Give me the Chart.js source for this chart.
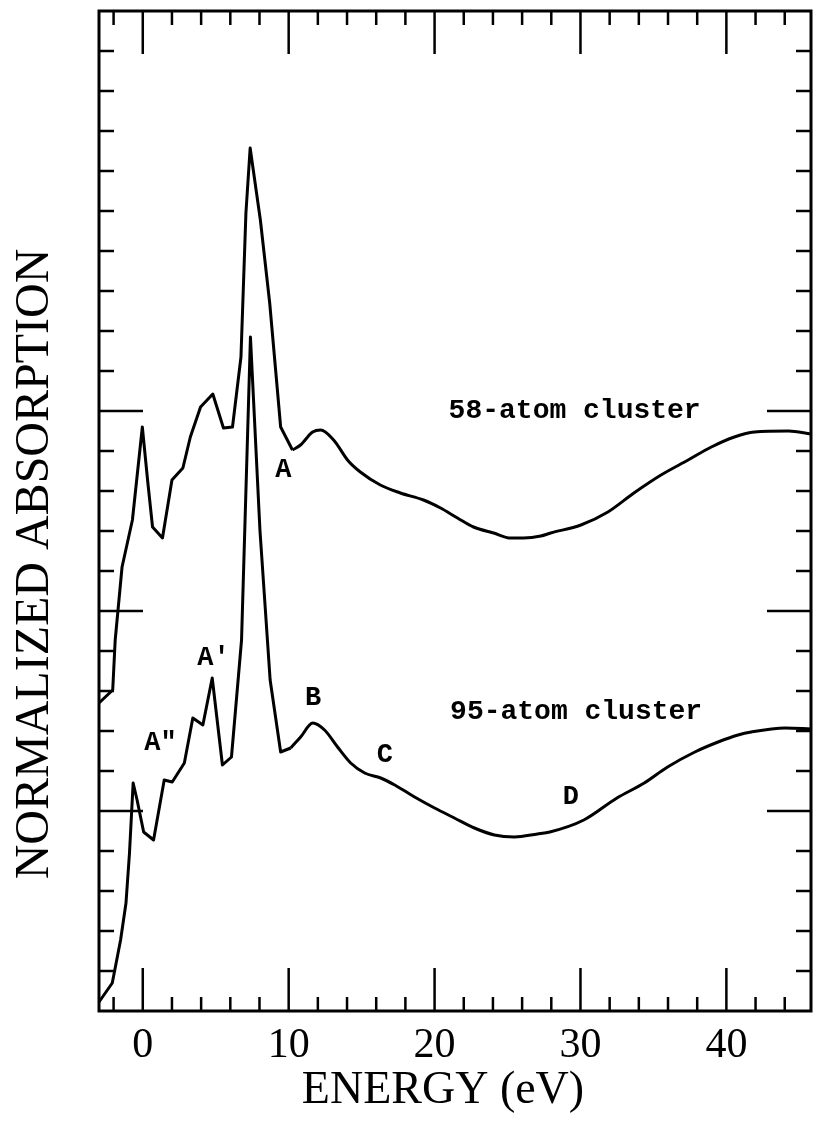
<!DOCTYPE html>
<html><head><meta charset="utf-8">
<script src="https://cdn.jsdelivr.net/npm/chart.js@4.4.1/dist/chart.umd.min.js"></script>
<style>html,body{margin:0;padding:0;background:#fff;}#wrap{width:815px;height:1125px;}</style>
</head><body><div id="wrap"><canvas id="c" width="815" height="1125"></canvas></div>
<script>
// ---- data (energy in eV, normalized absorption in arbitrary offset units) ----
const energy58 = [-3.0,-2.06,-1.89,-1.42,-0.71,-0.03,0.35,0.67,1.35,2.0,2.75,3.26,3.96,4.80,5.53,6.15,6.73,7.07,7.36,8.06,8.70,9.45,10.26,10.81,11.64,12.19,13.08,14.09,14.91,16.28,17.66,19.24,20.41,21.57,22.67,24.05,25.22,26.11,27.28,27.96,30.03,31.88,33.66,35.52,37.38,38.97,40.55,41.92,44.26,45.8];
const absorb58 = [1.54,1.605,1.855,2.22,2.455,2.92,2.64,2.42,2.365,2.655,2.715,2.87,3.02,3.085,2.915,2.92,3.27,3.99,4.315,3.955,3.54,2.92,2.805,2.83,2.895,2.905,2.855,2.75,2.695,2.63,2.59,2.555,2.515,2.465,2.42,2.39,2.365,2.365,2.375,2.39,2.43,2.495,2.59,2.68,2.755,2.82,2.87,2.895,2.90,2.885];

const energy95 = [-3.0,-2.09,-1.52,-1.15,-0.91,-0.66,-0.39,0.06,0.74,1.47,2.02,2.85,3.43,4.12,4.76,5.46,6.08,6.77,7.38,8.03,8.73,9.45,10.14,10.82,11.65,12.46,13.35,14.25,15.21,16.31,17.27,18.63,20.0,21.36,22.73,24.1,25.47,27.05,27.9,30.23,32.5,34.37,35.97,37.84,39.43,40.8,41.7,44.04,45.8];
const absorb95 = [0.045,0.14,0.355,0.54,0.79,1.14,1.055,0.895,0.855,1.155,1.145,1.24,1.465,1.43,1.665,1.23,1.27,1.855,3.37,2.405,1.655,1.295,1.315,1.37,1.44,1.405,1.32,1.24,1.19,1.165,1.13,1.07,1.015,0.965,0.915,0.88,0.87,0.885,0.895,0.955,1.065,1.14,1.22,1.295,1.345,1.38,1.395,1.415,1.41];

// energy above which each spectrum is a smooth curve (drawn with monotone interpolation)
const smoothFrom58 = 10.26;
const smoothFrom95 = 10.14;

// ---- axes / ticks ----
const xMin = -3, xMax = 45.8, yMin = 0, yMax = 5;
const xLabelTicks = [0,10,20,30,40];
const xTickLabels = ['0','10','20','30','40'];
const xMinorTicks = [-2,2,4,6,8,12,14,16,18,22,24,26,28,32,34,36,38,42,44];
const yMajorTicks = [1,2,3];
const yMinorTicks = [0.2,0.4,0.6,0.8,1.2,1.4,1.6,1.8,2.2,2.4,2.6,2.8,3.2,3.4,3.6,3.8,4.0,4.2,4.4,4.6,4.8];
const xTitle = 'ENERGY (eV)';
const yTitle = 'NORMALIZED ABSORPTION';

// ---- annotations (data coordinates) ----
const clusterLabels = ['58-atom cluster','95-atom cluster'];
const clusterLabelX = [29.6, 29.7];
const clusterLabelY = [3.0, 1.495];
const peakLabels = ['A','A\u2032','A\u2033','B','C','D'];
const peakLabelX = [9.64, 4.84, 1.21, 11.68, 16.6, 29.34];
const peakLabelY = [2.705, 1.765, 1.34, 1.565, 1.28, 1.07];

function pts(ex, ay, from, to) {
  const out = [];
  for (let i = 0; i < ex.length; i++) {
    if (ex[i] >= from && ex[i] <= to) out.push({x: ex[i], y: ay[i]});
  }
  return out;
}

const framePlugin = {
  id: 'frame',
  afterDatasetsDraw(chart) {
    const {ctx, chartArea: a, scales: {x, y}} = chart;
    ctx.save();
    ctx.strokeStyle = '#000';
    ctx.lineWidth = 3;
    ctx.strokeRect(a.left, a.top, a.right - a.left, a.bottom - a.top);
    ctx.lineWidth = 2.5;
    ctx.beginPath();
    const tickX = (v, len) => {
      const px = x.getPixelForValue(v);
      ctx.moveTo(px, a.bottom); ctx.lineTo(px, a.bottom - len);
      ctx.moveTo(px, a.top); ctx.lineTo(px, a.top + len);
    };
    const tickY = (v, len) => {
      const py = y.getPixelForValue(v);
      ctx.moveTo(a.left, py); ctx.lineTo(a.left + len, py);
      ctx.moveTo(a.right, py); ctx.lineTo(a.right - len, py);
    };
    xMinorTicks.forEach(v => tickX(v, 14));
    xLabelTicks.forEach(v => tickX(v, 43));
    yMinorTicks.forEach(v => tickY(v, 15));
    yMajorTicks.forEach(v => tickY(v, 44));
    ctx.stroke();

    ctx.fillStyle = '#000';
    ctx.textAlign = 'center';
    ctx.textBaseline = 'middle';
    ctx.font = 'bold 28px "Liberation Mono"';
    clusterLabels.forEach((t, i) => ctx.fillText(t, x.getPixelForValue(clusterLabelX[i]), y.getPixelForValue(clusterLabelY[i])));
    ctx.font = 'bold 27px "Liberation Mono"';
    peakLabels.forEach((t, i) => ctx.fillText(t, x.getPixelForValue(peakLabelX[i]), y.getPixelForValue(peakLabelY[i])));

    // axis titles
    ctx.font = '46px "Liberation Serif"';
    ctx.fillText(xTitle, a.left + 344, a.bottom + 80);
    ctx.font = '48px "Liberation Serif"';
    ctx.translate(35, a.top + 553);
    ctx.rotate(-Math.PI / 2);
    ctx.fillText(yTitle, 0, 0);
    ctx.restore();
  }
};

const lineStyle = { showLine: true, borderColor: '#000', borderWidth: 3, pointRadius: 0, fill: false, borderJoinStyle: 'round' };

const ctx = document.getElementById('c').getContext('2d');
new Chart(ctx, {
  type: 'scatter',
  data: {
    datasets: [
      Object.assign({ label: clusterLabels[0], data: pts(energy58, absorb58, -Infinity, smoothFrom58), tension: 0 }, lineStyle),
      Object.assign({ label: clusterLabels[0] + ' (tail)', data: pts(energy58, absorb58, smoothFrom58, Infinity), cubicInterpolationMode: 'monotone' }, lineStyle),
      Object.assign({ label: clusterLabels[1], data: pts(energy95, absorb95, -Infinity, smoothFrom95), tension: 0 }, lineStyle),
      Object.assign({ label: clusterLabels[1] + ' (tail)', data: pts(energy95, absorb95, smoothFrom95, Infinity), cubicInterpolationMode: 'monotone' }, lineStyle)
    ]
  },
  options: {
    responsive: false, animation: false, devicePixelRatio: 1,
    layout: { padding: { top: 11, right: 4, left: 0, bottom: 0 } },
    plugins: { legend: { display: false }, tooltip: { enabled: false } },
    scales: {
      x: {
        type: 'linear', min: xMin, max: xMax,
        grid: { display: false, drawTicks: false }, border: { display: false },
        afterBuildTicks: s => { s.ticks = xLabelTicks.map(v => ({value: v})); },
        ticks: {
          font: { family: 'Liberation Serif', size: 42 }, color: '#000', padding: 10,
          maxRotation: 0, autoSkip: false,
          callback: v => { const i = xLabelTicks.indexOf(v); return i >= 0 ? xTickLabels[i] : ''; }
        },
        afterFit: s => { s.height = 114; }
      },
      y: {
        type: 'linear', min: yMin, max: yMax,
        grid: { display: false, drawTicks: false }, border: { display: false },
        ticks: { display: false },
        afterFit: s => { s.width = 99; }
      }
    }
  },
  plugins: [framePlugin]
});
</script></body></html>
